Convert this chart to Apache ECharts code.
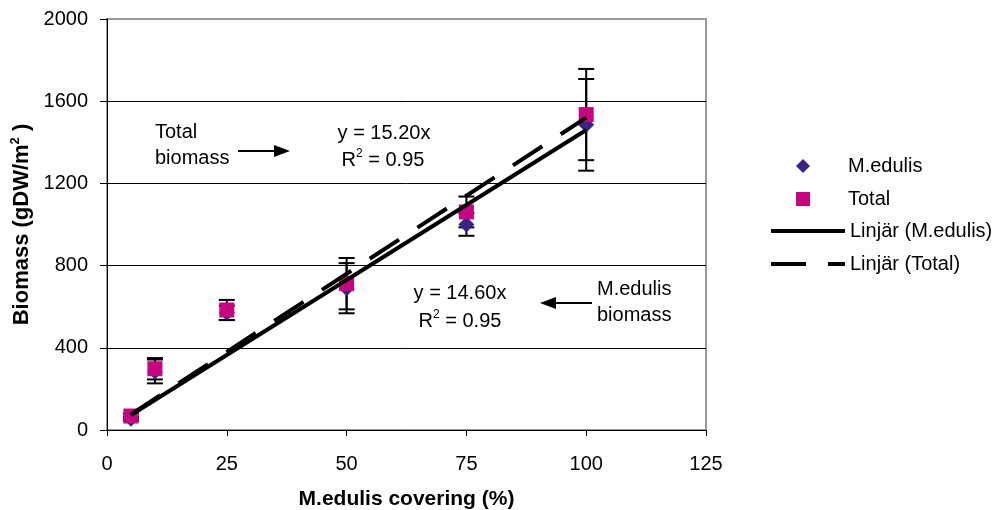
<!DOCTYPE html>
<html>
<head>
<meta charset="utf-8">
<script src="https://cdn.jsdelivr.net/npm/echarts@6/dist/echarts.min.js"></script>
<style>html,body{margin:0;padding:0;background:#fff}#c{width:1002px;height:510px}</style>
</head>
<body>
<div id="c"></div>
<script>
// ---- data ----
const xCover = [5, 10, 25, 50, 75, 100];
const medulis = [55, 285, 570, 690, 1000, 1485];
const medulisErr = [10, 58, 35, 122, 55, 223];
const total = [68, 298, 584, 712, 1061, 1535];
const totalErr = [12, 52, 49, 125, 75, 222];
// trend line end points (y = 14.60x and y = 15.20x, from x=5 to x=100)
const trendMedulis = [[5, 73], [100, 1460]];
const trendTotal = [[5, 76], [100, 1520]];
const yTicks = [0, 400, 800, 1200, 1600, 2000];
const xTicks = [0, 25, 50, 75, 100, 125];

const FONT = 'Liberation Sans, Arial, sans-serif';
const FS = 20;

function errData(vals, errs) {
  return xCover.map((x, i) => [x, vals[i] - errs[i], vals[i] + errs[i]]);
}
function errRender(params, api) {
  const x = api.value(0), lo = api.value(1), hi = api.value(2);
  const t = api.coord([x, hi]), b = api.coord([x, lo]);
  const w = 8, st = {stroke: '#000', lineWidth: 2};
  return {type: 'group', children: [
    {type: 'line', shape: {x1: t[0], y1: t[1], x2: b[0], y2: b[1]}, style: st},
    {type: 'line', shape: {x1: t[0] - w, y1: t[1], x2: t[0] + w, y2: t[1]}, style: st},
    {type: 'line', shape: {x1: b[0] - w, y1: b[1], x2: b[0] + w, y2: b[1]}, style: st}
  ]};
}

const chart = echarts.init(document.getElementById('c'));
const txt = {fontFamily: FONT, fontSize: FS, fill: '#000'};
const rich = {
  a: {fontFamily: FONT, fontSize: FS, color: '#000', lineHeight: 24},
  s: {fontFamily: FONT, fontSize: 12, color: '#000', verticalAlign: 'top', lineHeight: 24}
};
const legText = {fontFamily: FONT, fontSize: FS, color: '#000'};
chart.setOption({
  animation: false,
  textStyle: {fontFamily: FONT},
  grid: {left: 107, right: 296, top: 19, bottom: 80, show: true, borderColor: '#999', borderWidth: 2,
    backgroundColor: '#fff', containLabel: false, outerBoundsMode: 'none'},
  xAxis: {
    type: 'value', min: xTicks[0], max: xTicks[xTicks.length - 1], interval: 25,
    name: 'M.edulis covering (%)', nameLocation: 'middle', nameGap: 59,
    nameTextStyle: {fontFamily: FONT, fontSize: 21, fontWeight: 'bold', color: '#000'},
    axisLine: {lineStyle: {color: '#000', width: 1}},
    axisTick: {show: true, length: 6, lineStyle: {color: '#000'}},
    axisLabel: {fontFamily: FONT, fontSize: FS, color: '#000', margin: 24, formatter: v => String(v)},
    splitLine: {show: false}
  },
  yAxis: {
    type: 'value', min: yTicks[0], max: yTicks[yTicks.length - 1], interval: 400,
    name: '{b|Biomass (gDW/m}{t|2}{b| )}', nameLocation: 'middle', nameGap: 70, nameRotate: 90,
    nameTextStyle: {fontFamily: FONT, fontSize: 22, fontWeight: 'bold', color: '#000',
      rich: {
        b: {fontFamily: FONT, fontSize: 22, fontWeight: 'bold', color: '#000', lineHeight: 26},
        t: {fontFamily: FONT, fontSize: 13, fontWeight: 'bold', color: '#000', verticalAlign: 'top', lineHeight: 26}
      }},
    axisLine: {show: true, lineStyle: {color: '#000', width: 1}},
    axisTick: {show: true, length: 7, lineStyle: {color: '#000'}},
    axisLabel: {fontFamily: FONT, fontSize: FS, color: '#000', margin: 19, formatter: v => String(v)},
    splitLine: {show: true, lineStyle: {color: ['#000', '#000', '#000', '#000', '#000', '#999'], width: 1}}
  },
  legend: [
    {
      orient: 'vertical', left: 796, top: 156, padding: 0,
      itemWidth: 14, itemHeight: 14, itemGap: 13,
      textStyle: Object.assign({padding: [0, 0, 0, 33]}, legText),
      data: [
        {name: 'M.edulis', icon: 'diamond'},
        {name: 'Total', icon: 'rect'}
      ]
    },
    {
      orient: 'vertical', left: 769, top: 221, padding: 0,
      itemWidth: 74, itemHeight: 14, itemGap: 13,
      textStyle: legText,
      data: [
        {name: 'Linjär (M.edulis)', itemStyle: {opacity: 0}, lineStyle: {color: '#000', width: 4, type: 'solid'}},
        {name: 'Linjär (Total)', itemStyle: {opacity: 0}, lineStyle: {color: '#000', width: 4, type: [35, 22]}}
      ]
    }
  ],
  series: [
    {name: 'errM', type: 'custom', renderItem: errRender, data: errData(medulis, medulisErr), z: 1, silent: true},
    {name: 'errT', type: 'custom', renderItem: errRender, data: errData(total, totalErr), z: 1, silent: true},
    {name: 'M.edulis', type: 'scatter', symbol: 'diamond', symbolSize: 16, z: 2,
      itemStyle: {color: '#3B2383', opacity: 1}, data: xCover.map((x, i) => [x, medulis[i]])},
    {name: 'Total', type: 'scatter', symbol: 'rect', symbolSize: 15, z: 3,
      itemStyle: {color: '#C5067F', opacity: 1}, data: xCover.map((x, i) => [x, total[i]])},
    {name: 'Linjär (M.edulis)', type: 'line', symbol: 'none', z: 4, color: '#000',
      lineStyle: {color: '#000', width: 4}, data: trendMedulis},
    {name: 'Linjär (Total)', type: 'line', symbol: 'none', z: 4, color: '#000',
      lineStyle: {color: '#000', width: 4, type: [35, 22]}, data: trendTotal}
  ],
  graphic: [
    {type: 'text', left: 155, top: 119, style: Object.assign({text: 'Total\nbiomass', lineHeight: 26}, txt)},
    {type: 'line', shape: {x1: 238, y1: 151, x2: 276, y2: 151}, style: {stroke: '#000', lineWidth: 2}},
    {type: 'polygon', shape: {points: [[274, 145], [290, 151], [274, 157]]}, style: {fill: '#000'}},
    {type: 'text', x: 384, y: 133, style: Object.assign({text: 'y = 15.20x', align: 'center', verticalAlign: 'middle'}, txt)},
    {type: 'text', x: 383, y: 160, style: {text: '{a|R}{s|2}{a| = 0.95}', rich: rich, align: 'center', verticalAlign: 'middle'}},
    {type: 'text', x: 460, y: 293, style: Object.assign({text: 'y = 14.60x', align: 'center', verticalAlign: 'middle'}, txt)},
    {type: 'text', x: 460, y: 321, style: {text: '{a|R}{s|2}{a| = 0.95}', rich: rich, align: 'center', verticalAlign: 'middle'}},
    {type: 'text', left: 597, top: 276, style: Object.assign({text: 'M.edulis\nbiomass', lineHeight: 26}, txt)},
    {type: 'line', shape: {x1: 556, y1: 303, x2: 592, y2: 303}, style: {stroke: '#000', lineWidth: 2}},
    {type: 'polygon', shape: {points: [[556, 297], [540, 303], [556, 309]]}, style: {fill: '#000'}}
  ]
});
</script>
</body>
</html>
